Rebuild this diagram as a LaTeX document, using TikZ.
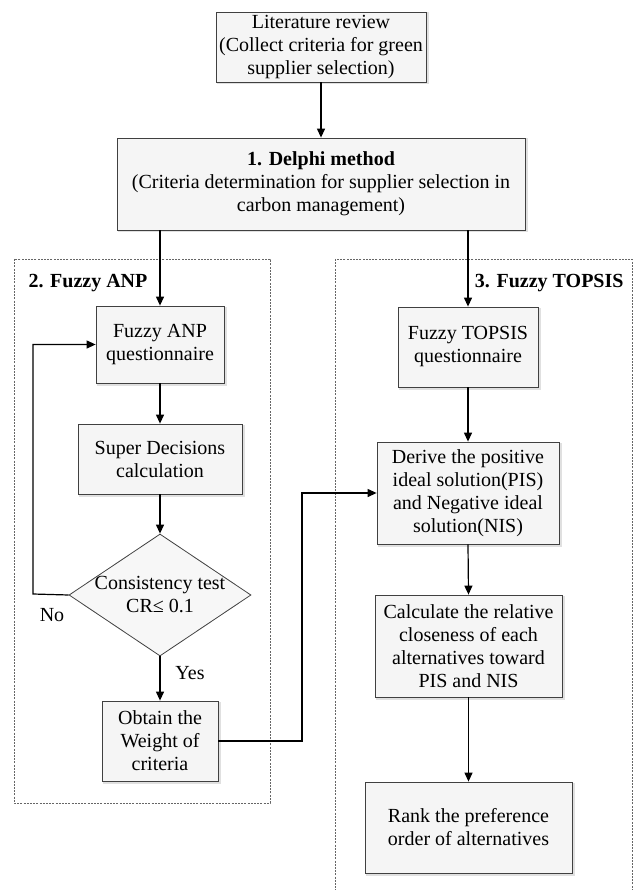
\documentclass[tikz,border=0pt]{standalone}
\usepackage{fontspec}
\setmainfont{Liberation Serif}
\usetikzlibrary{arrows.meta,shapes.geometric}
\begin{document}
\begin{tikzpicture}[x=1pt,y=-1pt,
  every node/.style={font=\fontsize{20}{23}\selectfont},
  box/.style={draw=black!75, line width=0.8pt, fill=black!4,
    align=center, inner sep=0pt,
    preaction={draw=black!12, line width=2pt, transform canvas={xshift=1.5pt,yshift=-1.5pt}}},
  conn/.style={line width=1.2pt, -{Triangle[length=9pt,width=8pt]}},
  group/.style={draw=black!60, line width=0.8pt, dash pattern=on 2pt off 1.2pt},
  grouplabel/.style={font=\fontsize{20}{23}\selectfont\bfseries}
]
\clip (0,0) rectangle (635,890);
\fill[white] (0,0) rectangle (635,890);

% group frames
\draw[group] (14,259) rectangle (270,803);
\draw[group] (335,259) rectangle (632,900);
\node[grouplabel, anchor=west] (lanp) at (25,283) {2. Fuzzy ANP};
\node[grouplabel, anchor=east] (ltop) at (627,283) {3. Fuzzy TOPSIS};

% nodes
\node[box, minimum width=210, minimum height=70] (lit) at (321,47)
  {Literature review\\(Collect criteria for green\\supplier selection)};
\node[box, minimum width=408, minimum height=92] (delphi) at (321,184)
  {\textbf{1. Delphi method}\\(Criteria determination for supplier selection in\\carbon management)};
\node[box, minimum width=128, minimum height=77] (anpq) at (160,344.5)
  {Fuzzy ANP\\questionnaire};
\node[box, minimum width=164, minimum height=70] (super) at (160,459)
  {Super Decisions\\calculation};
\node[diamond, draw=black!75, line width=0.8pt, fill=black!3,
  minimum width=182, minimum height=122, inner sep=0pt] (cons) at (160,595) {};
\node[align=center] (constext) at (160,595) {Consistency test\\CR≤ 0.1};
\node[box, minimum width=116, minimum height=80] (obtain) at (160,741)
  {Obtain the\\Weight of\\criteria};
\node[box, minimum width=140, minimum height=80] (topq) at (468,347)
  {Fuzzy TOPSIS\\questionnaire};
\node[box, minimum width=182, minimum height=102] (derive) at (468,493)
  {Derive the positive\\ideal solution(PIS)\\and Negative ideal\\solution(NIS)};
\node[box, minimum width=187, minimum height=102] (calc) at (468.5,646)
  {Calculate the relative\\closeness of each\\alternatives toward\\PIS and NIS};
\node[box, minimum width=207, minimum height=91] (rank) at (468.5,827.5)
  {Rank the preference\\order of alternatives};

% labels
\node (no) at (52,615) {No};
\node (yes) at (190,673) {Yes};

% connectors
\coordinate (loopx) at (33,594);
\coordinate (bendx) at (302,741);
\draw[conn] (lit.south) -- (delphi.north);
\draw[conn] (delphi.south -| anpq.north) -- (anpq.north);
\draw[conn] (delphi.south -| topq.north) -- (topq.north);
\draw[conn] (anpq.south) -- (super.north);
\draw[conn] (super.south) -- (cons.north);
\draw[conn] (cons.south) -- (obtain.north);
\draw[conn] (cons.west) -- (loopx) |- (anpq.west);
\draw[conn] (obtain.east) -- (bendx) |- (derive.west);
\draw[conn] (topq.south) -- (derive.north);
\draw[conn] (derive.south) -- (calc.north);
\draw[conn] (calc.south) -- (rank.north);
\end{tikzpicture}
\end{document}
